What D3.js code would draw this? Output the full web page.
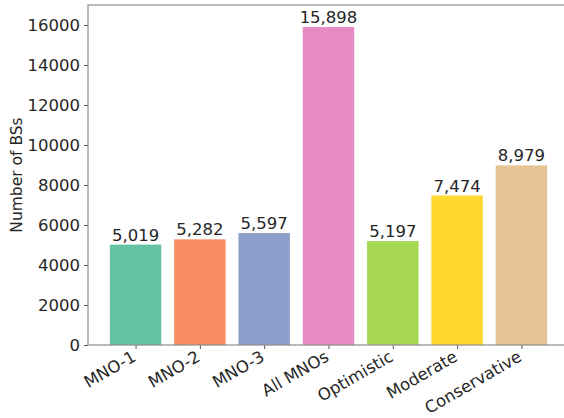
<!DOCTYPE html>
<html>
<head>
<meta charset="utf-8">
<script src="https://cdn.jsdelivr.net/npm/d3@7"></script>
<style>
  html, body { margin: 0; padding: 0; background: #fff; }
  svg { display: block; }
  text { font-family: "DejaVu Sans", sans-serif; fill: #262626; }
</style>
</head>
<body>
<svg id="chart" width="564" height="418"></svg>
<script>
// Base-station counts per operator and per deployment scenario
const categories = ["MNO-1", "MNO-2", "MNO-3", "All MNOs", "Optimistic", "Moderate", "Conservative"];
const values = [5019, 5282, 5597, 15898, 5197, 7474, 8979];
const colors = ["#66c2a5", "#fc8d62", "#8da0cb", "#e78ac3", "#a6d854", "#ffd92f", "#e5c494"];
const yTicks = [0, 2000, 4000, 6000, 8000, 10000, 12000, 14000, 16000];
const yLabel = "Number of BSs";

const svg = d3.select("#chart");
const plot = { left: 88, right: 569, top: 5, bottom: 345 };
const barWidth = 0.8;
const fontSize = "16.5px";

// Bars sit at integer positions; axis padded like matplotlib's default margins
const x = d3.scaleLinear().domain([-0.74, categories.length - 1 + 0.74]).range([plot.left, plot.right]);
const y = d3.scaleLinear().domain([0, 17000]).range([plot.bottom, plot.top]);

const fmt = d3.format(",");

// Bars
svg.append("g").selectAll("rect")
  .data(values)
  .join("rect")
  .attr("x", (d, i) => x(i - barWidth / 2))
  .attr("width", (d, i) => x(i + barWidth / 2) - x(i - barWidth / 2))
  .attr("y", d => y(d))
  .attr("height", d => y(0) - y(d))
  .attr("fill", (d, i) => colors[i]);

// Value labels above bars
svg.append("g").selectAll("text")
  .data(values)
  .join("text")
  .attr("x", (d, i) => x(i))
  .attr("y", d => y(d) - 4)
  .attr("text-anchor", "middle")
  .style("font-size", fontSize)
  .text(d => fmt(d));

// Y axis
const yAxis = svg.append("g")
  .attr("transform", `translate(${plot.left},0)`)
  .call(d3.axisLeft(y).tickValues(yTicks).tickFormat(d3.format("d")).tickSize(4).tickPadding(4));
yAxis.select(".domain").remove();
yAxis.selectAll(".tick line").attr("stroke", "#555");
yAxis.selectAll(".tick text").style("font-size", fontSize).style("font-family", "DejaVu Sans").attr("fill", "#262626");

// X axis with rotated category labels
const xAxis = svg.append("g")
  .attr("transform", `translate(0,${plot.bottom})`)
  .call(d3.axisBottom(x).tickValues(d3.range(categories.length)).tickFormat(i => categories[i]).tickSize(4));
xAxis.select(".domain").remove();
xAxis.selectAll(".tick line").attr("stroke", "#555");
xAxis.selectAll(".tick text")
  .style("font-size", fontSize)
  .style("font-family", "DejaVu Sans")
  .attr("fill", "#262626")
  .attr("text-anchor", "end")
  .attr("dy", null)
  .attr("y", 0)
  .attr("transform", "translate(1,15) rotate(-30)");

// Frame
svg.append("rect")
  .attr("x", plot.left)
  .attr("y", plot.top)
  .attr("width", plot.right - plot.left)
  .attr("height", plot.bottom - plot.top)
  .attr("fill", "none")
  .attr("stroke", "#8c8c8c")
  .attr("stroke-width", 1.2);

// Y axis title
svg.append("text")
  .attr("transform", `translate(22,${(plot.top + plot.bottom) / 2}) rotate(-90)`)
  .attr("text-anchor", "middle")
  .style("font-size", "15.5px")
  .text(yLabel);
</script>
</body>
</html>
